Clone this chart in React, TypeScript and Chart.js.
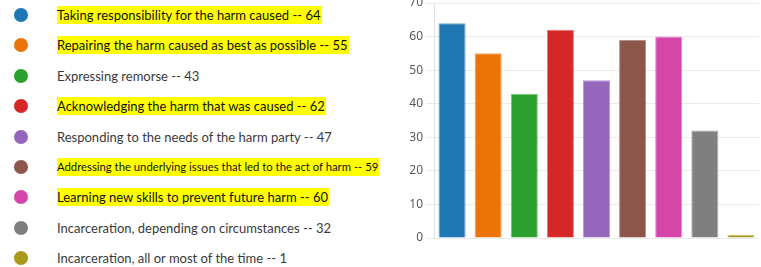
import React, { useEffect, useRef } from "react";
import { Chart, registerables } from "chart.js";

Chart.register(...registerables);

const categories = [
  "Taking responsibility for the harm caused",
  "Repairing the harm caused as best as possible",
  "Expressing remorse",
  "Acknowledging the harm that was caused",
  "Responding to the needs of the harm party",
  "Addressing the underlying issues that led to the act of harm",
  "Learning new skills to prevent future harm",
  "Incarceration, depending on circumstances",
  "Incarceration, all or most of the time",
];
const values = [64, 55, 43, 62, 47, 59, 60, 32, 1];
const colors = [
  "#1f77b4",
  "#ec7306",
  "#2ca02c",
  "#d62728",
  "#9467bd",
  "#8c564b",
  "#d447a8",
  "#7f7f7f",
  "#a99a1d",
];
const highlighted = [true, true, false, true, false, true, true, false, false];
const yTicks = [0, 10, 20, 30, 40, 50, 60, 70];

function lighten(hex: string, amt: number): string {
  const n = parseInt(hex.slice(1), 16);
  const r = (n >> 16) & 255, g = (n >> 8) & 255, b = n & 255;
  const f = (c: number) => Math.round(c + (255 - c) * amt);
  return `rgb(${f(r)},${f(g)},${f(b)})`;
}

function Legend() {
  return (
    <div style={{ position: "absolute", left: 0, top: 0, width: 400, height: 267 }}>
      {categories.map((c, i) => {
        const cy = 15 + i * 30.4;
        const small = i === 5;
        return (
          <div key={c}>
            <div
              style={{
                position: "absolute",
                left: 14,
                top: cy - 7,
                width: 14,
                height: 14,
                borderRadius: "50%",
                background: colors[i],
              }}
            />
            <div
              style={{
                position: "absolute",
                left: 57,
                top: cy - 9,
                height: 18,
                lineHeight: "18px",
                fontFamily: "Lato, 'Open Sans', sans-serif",
                fontSize: small ? 11.3 : 13,
                color: highlighted[i] ? "#111" : "#3a3a3a",
                background: highlighted[i] ? "#ffff00" : "transparent",
                whiteSpace: "nowrap",
                paddingRight: 1,
              }}
            >
              {c} -- {values[i]}
            </div>
          </div>
        );
      })}
    </div>
  );
}

export default function App() {
  const ref = useRef<HTMLCanvasElement | null>(null);
  useEffect(() => {
    if (!ref.current) return;
    const chart = new Chart(ref.current, {
      type: "bar",
      data: {
        labels: categories,
        datasets: [
          {
            data: values,
            backgroundColor: colors,
            borderColor: colors.map((c) => lighten(c, 0.35)),
            borderWidth: 1,
            categoryPercentage: 0.75,
            barPercentage: 1,
          },
        ],
      },
      options: {
        animation: false,
        responsive: true,
        maintainAspectRatio: false,
        layout: { padding: { top: 3, right: 2, bottom: 29, left: 0 } },
        plugins: { legend: { display: false }, tooltip: { enabled: false } },
        scales: {
          x: { display: false },
          y: {
            min: 0,
            max: 70,
            afterFit: (s: any) => {
              s.width = 34;
              s.paddingTop = 0;
              s.paddingBottom = 0;
            },
            afterBuildTicks: (s: any) => {
              s.ticks = yTicks.map((v) => ({ value: v }));
            },
            grid: { color: "#ebebeb", tickLength: 8 },
            border: { color: "#e0e0e0" },
            ticks: {
              color: "#595959",
              padding: 3,
              font: { family: "'Noto Sans', 'Open Sans', sans-serif", size: 12 },
            },
          },
        },
      },
    });
    return () => chart.destroy();
  }, []);
  return (
    <div style={{ position: "fixed", left: 0, top: 0, width: 761, height: 267, background: "#fff" }}>
      <Legend />
      <div style={{ position: "absolute", left: 400, top: 0, width: 361, height: 267 }}>
        <canvas ref={ref} />
      </div>
    </div>
  );
}
